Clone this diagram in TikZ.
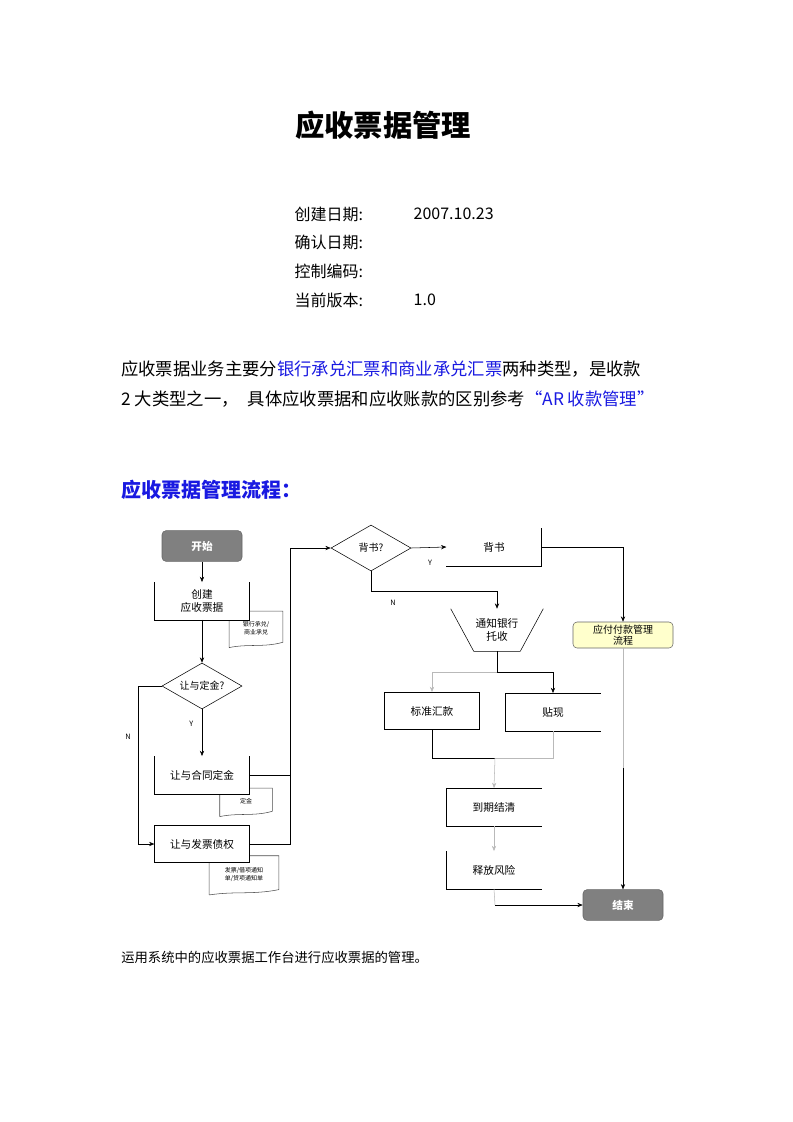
\documentclass[tikz,border=0pt]{standalone}
\usepackage{fontspec}
\setmainfont{Noto Sans CJK SC}
\usetikzlibrary{arrows.meta,shapes.geometric}

\definecolor{linkblue}{RGB}{25,25,225}
\definecolor{termgray}{RGB}{128,128,128}
\definecolor{noteyellow}{RGB}{255,255,204}
\definecolor{lightline}{RGB}{185,185,185}

\begin{document}
\begin{tikzpicture}[
  x=0.75pt, y=-0.75pt,
  term/.style={draw=black!60, fill=termgray, rounded corners=3pt, text=white,
               minimum width=60pt, minimum height=23pt, inner sep=0pt,
               font=\fontsize{8}{9}\selectfont\bfseries},
  proc/.style={minimum width=71pt, minimum height=28pt, inner sep=0pt,
               align=center, font=\fontsize{8}{10}\selectfont},
  fullbox/.style={proc, draw, fill=white},
  decide/.style={draw, diamond, aspect=1.7, inner sep=0pt, fill=white,
                 minimum width=60pt, minimum height=34.5pt,
                 font=\fontsize{7.5}{9}\selectfont},
  doc/.style={align=center, inner sep=0pt, font=\fontsize{4.5}{6}\selectfont},
  note/.style={draw=black!60, fill=noteyellow, rounded corners=3pt, align=center,
               minimum width=75pt, minimum height=19.5pt, inner sep=0pt,
               font=\fontsize{7.5}{8.5}\selectfont},
  yn/.style={font=\fontsize{5.5}{6}\selectfont},
  >={Stealth[length=4pt,width=3.2pt]}
]
\useasboundingbox (0,0) rectangle (793,1122);

% ---- Page text ----
\node[font=\fontsize{22}{26}\selectfont\bfseries] (title) at (383,125) {应收票据管理};

\node[anchor=west, font=\fontsize{12}{14}\selectfont] (lcreate) at (290,214) {创建日期:};
\node[anchor=west, font=\fontsize{12}{14}\selectfont] (vcreate) at (409,214) {2007.10.23};
\node[anchor=west, font=\fontsize{12}{14}\selectfont] (lconfirm) at (290,242) {确认日期:};
\node[anchor=west, font=\fontsize{12}{14}\selectfont] (lcode) at (290,271) {控制编码:};
\node[anchor=west, font=\fontsize{12}{14}\selectfont] (lversion) at (290,300) {当前版本:};
\node[anchor=west, font=\fontsize{12}{14}\selectfont] (vversion) at (409,300) {1.0};

\node[anchor=west, inner sep=0pt, font=\fontsize{13}{15}\selectfont] (para1) at (121,369)
  {应收票据业务主要分\textcolor{linkblue}{银行承兑汇票和商业承兑汇票}两种类型，是收款};
\node[anchor=west, inner sep=0pt, font=\fontsize{13}{15}\selectfont] (para2) at (121,399)
  {2 大类型之一，\hspace{0.3em} 具体应收票据和应收账款的区别参考\textcolor{linkblue}{“AR 收款管理”}};

\node[anchor=west, inner sep=0pt, text=linkblue, font=\fontsize{15}{18}\selectfont\bfseries] (flowhead) at (121,490)
  {应收票据管理流程：};

\node[anchor=west, inner sep=0pt, font=\fontsize{10}{12}\selectfont] (caption) at (121,957)
  {运用系统中的应收票据工作台进行应收票据的管理。};

% ---- Documents (drawn first, boxes cover them) ----
\node[doc, minimum width=40pt, minimum height=25pt] (doc1) at (256,628) {银行承兑/\\商业承兑};
\node[doc, minimum width=39pt, minimum height=19pt] (doc2) at (246,801) {定金};
\node[doc, minimum width=52pt, minimum height=27pt] (doc3) at (244,874) {发票/借项通知\\单/贷项通知单};
\foreach \d in {doc1,doc2,doc3}{
  \draw[black!70] ([yshift=-2pt]\d.south west) -- (\d.north west) -- (\d.north east)
    -- ([yshift=2pt]\d.south east)
    .. controls ([xshift=6pt,yshift=-2pt]\d.south) and ([xshift=-6pt,yshift=1pt]\d.south)
    .. ([yshift=-2pt]\d.south west);
}

% ---- Left column ----
\node[term] (start) at (202,546) {开始};
\node[proc, fill=white] (create) at (202,601) {创建\\应收票据};
\node[decide] (q1) at (202,686) {让与定金?};
\node[proc, fill=white] (deposit) at (202,775) {让与合同定金};
\node[fullbox] (invoice) at (202,844) {让与发票债权};

\draw (create.north west) -- (create.south west) -- (create.south east) -- (create.north east);
\draw (deposit.north west) -- (deposit.south west) -- (deposit.south east) -- (deposit.north east);

% ---- Right part ----
\node[decide] (q2) at (371,548) {背书?};
\node[proc] (endorse) at (494,547) {背书};
\node[proc, minimum width=69pt, minimum height=31.5pt] (notify) at (497,630) {通知银行\\托收};
\node[fullbox] (remit) at (432,711) {标准汇款};
\node[proc] (discount) at (553,712) {贴现};
\node[proc] (mature) at (494,807) {到期结清};
\node[proc] (release) at (494,870) {释放风险};
\node[note] (pay) at (623,635) {应付付款管理\\流程};
\node[term] (end) at (623,905) {结束};

\draw (endorse.south west) -- (endorse.south east) -- (endorse.north east);
\draw (notify.north west) -- ([xshift=17.25pt]notify.south west)
  -- ([xshift=-17.25pt]notify.south east) -- (notify.north east);
\draw (discount.north east) -- (discount.north west) -- (discount.south west) -- (discount.south east);
\draw (mature.north east) -- (mature.north west) -- (mature.south west) -- (mature.south east);
\draw (release.north west) -- (release.south west) -- (release.south east);

% ---- Coordinates ----
\coordinate (nleft) at (138,686);
\coordinate (bus) at (290,548);
\coordinate (nturn) at (497,591);
\coordinate (fork) at (497,672);
\coordinate (join) at (495,758);
\coordinate (rturn) at (495,905);
\coordinate (pdown) at (623,768);

% ---- Edges ----
\draw[->] (start) -- (create);
\draw[->] (create) -- (q1);
\draw[->] (q1) -- node[yn, left=3pt, pos=0.3] {Y} (deposit);
\draw[->] (q1.west) -- (nleft) |- (invoice.west);
\node[yn] (nlabel) at (128,737) {N};

\draw (deposit.east) -- (deposit.east -| bus);
\draw[->] (invoice.east) -| (bus) -- (q2.west);

\draw[->] (q2.east) -- (endorse.west);
\node[yn] (ylabel) at (430,563) {Y};
\draw[->] (endorse.east) -| (pay.north);
\draw[->] (q2.south) |- (nturn) -- (notify.north);
\node[yn] (nlabel2) at (393,603) {N};

\draw (notify.south) -- (fork);
\draw[->, lightline] (fork) -| (remit.north);
\draw[->] (fork) -| (discount.north);
\draw (remit.south) |- (join);
\draw[lightline] (discount.south) |- (join);
\draw[->, lightline] (join) -- (mature.north);
\draw[->, lightline] (mature.south) -- (release.north);
\draw[lightline] (release.south) -- (rturn);
\draw[->] (rturn) -- (end.west);

\draw[lightline] (pay.south) -- (pdown);
\draw[->] (pdown) -- (end.north);

\end{tikzpicture}
\end{document}
